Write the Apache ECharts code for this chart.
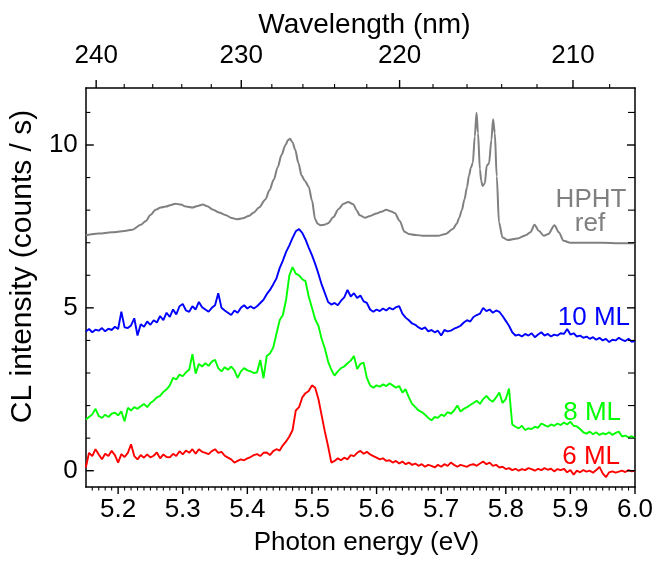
<!DOCTYPE html>
<html>
<head>
<meta charset="utf-8">
<script src="https://cdn.jsdelivr.net/npm/echarts@6.0.0/dist/echarts.min.js"></script>
<style>
html,body{margin:0;padding:0;background:#fff;}
#chart{width:666px;height:561px;}
</style>
</head>
<body>
<div id="chart"></div>
<script>
// ---- data ----
const energy = [
5.150,5.155,5.160,5.165,5.170,5.175,5.180,5.185,5.190,5.195,
5.200,5.205,5.210,5.215,5.220,5.225,5.230,5.235,5.240,5.245,
5.250,5.255,5.260,5.265,5.270,5.275,5.280,5.285,5.290,5.295,
5.300,5.305,5.310,5.315,5.320,5.325,5.330,5.335,5.340,5.345,
5.350,5.355,5.360,5.365,5.370,5.375,5.380,5.385,5.390,5.395,
5.400,5.405,5.410,5.415,5.420,5.425,5.430,5.435,5.440,5.445,
5.450,5.455,5.460,5.465,5.470,5.475,5.480,5.485,5.490,5.495,
5.500,5.505,5.510,5.515,5.520,5.525,5.530,5.535,5.540,5.545,
5.550,5.555,5.560,5.565,5.570,5.575,5.580,5.585,5.590,5.595,
5.600,5.605,5.610,5.615,5.620,5.625,5.630,5.635,5.640,5.645,
5.650,5.655,5.660,5.665,5.670,5.675,5.680,5.685,5.690,5.695,
5.700,5.705,5.710,5.715,5.720,5.725,5.730,5.735,5.740,5.745,
5.750,5.755,5.760,5.765,5.770,5.775,5.780,5.785,5.790,5.795,
5.800,5.805,5.810,5.815,5.820,5.825,5.830,5.835,5.840,5.845,
5.850,5.855,5.860,5.865,5.870,5.875,5.880,5.885,5.890,5.895,
5.900,5.905,5.910,5.915,5.920,5.925,5.930,5.935,5.940,5.945,
5.950,5.955,5.960,5.965,5.970,5.975,5.980,5.985,5.990,5.995,
6.000];

const ml10 = [
4.27,4.35,4.25,4.33,4.30,4.38,4.28,4.36,4.32,4.42,
4.35,4.88,4.40,4.38,4.46,4.68,4.15,4.50,4.42,4.58,
4.48,4.62,4.55,4.75,4.62,4.85,4.72,4.95,4.80,5.05,
5.12,4.92,4.88,5.05,4.95,5.18,5.02,4.95,4.88,5.00,
5.08,5.45,5.00,4.92,4.85,4.78,4.92,4.85,5.00,5.08,
4.98,5.05,4.98,5.05,5.15,5.25,5.42,5.55,5.72,5.90,
6.22,6.45,6.72,6.92,7.15,7.35,7.42,7.30,7.10,6.85,
6.62,6.35,6.05,5.72,5.45,5.18,5.10,5.15,5.08,5.22,
5.32,5.55,5.35,5.45,5.30,5.38,5.20,5.15,4.95,4.88,
4.95,4.90,4.98,4.92,5.00,4.95,5.02,5.05,4.82,4.70,
4.62,4.52,4.48,4.40,4.35,4.40,4.28,4.32,4.25,4.30,
4.15,4.32,4.28,4.30,4.36,4.40,4.45,4.55,4.62,4.58,
4.72,4.78,4.82,5.00,4.90,4.95,4.85,4.92,4.88,4.75,
4.60,4.45,4.25,4.15,4.18,4.12,4.20,4.15,4.22,4.10,
4.18,4.25,4.15,4.20,4.12,4.18,4.15,4.22,4.20,4.35,
4.18,4.22,4.12,4.15,4.08,4.12,4.05,4.10,4.02,4.08,
4.00,4.05,3.95,4.02,4.00,4.08,4.02,3.98,4.05,3.96,
3.98];

const ml8 = [
1.57,1.65,1.73,1.90,1.68,1.62,1.72,1.65,1.75,1.78,
1.70,1.82,1.52,1.93,1.85,1.95,1.90,1.98,2.05,1.95,
2.08,2.15,2.25,2.30,2.42,2.50,2.62,2.85,2.80,2.95,
2.90,3.02,3.10,3.58,2.98,3.28,3.20,3.30,3.22,3.35,
3.40,3.15,3.05,3.18,3.10,3.20,3.08,2.85,3.05,3.15,
3.08,3.05,3.00,3.02,3.40,2.84,3.52,3.60,3.78,4.20,
4.62,4.78,5.25,6.00,6.25,6.05,6.00,5.88,5.82,5.35,
5.00,4.65,4.45,4.05,3.75,3.35,3.10,2.92,3.05,3.15,
3.20,3.30,3.38,3.52,3.12,3.28,3.32,2.85,2.62,2.55,
2.62,2.58,2.65,2.60,2.68,2.62,2.55,2.60,2.40,2.50,
2.25,2.05,1.95,1.85,1.80,1.72,1.62,1.55,1.65,1.62,
1.72,1.68,1.80,1.75,1.85,2.00,1.82,1.90,1.95,2.02,
2.08,2.15,2.05,2.20,2.30,2.18,2.12,2.25,2.40,2.08,
2.20,2.52,1.42,1.35,1.30,1.38,1.25,1.30,1.28,1.35,
1.32,1.45,1.40,1.35,1.42,1.38,1.45,1.40,1.48,1.42,
1.50,1.38,1.36,1.28,1.18,1.14,1.20,1.12,1.18,1.10,
1.15,1.12,1.18,1.10,1.16,1.20,1.05,1.08,1.02,1.06,
1.00];

const ml6 = [
0.10,0.55,0.45,0.66,0.50,0.35,0.52,0.45,0.61,0.48,
0.25,0.51,0.42,0.55,0.81,0.45,0.35,0.48,0.40,0.50,
0.41,0.46,0.56,0.38,0.50,0.42,0.41,0.52,0.45,0.60,
0.50,0.62,0.55,0.66,0.52,0.66,0.58,0.55,0.51,0.60,
0.66,0.55,0.58,0.46,0.40,0.35,0.25,0.30,0.35,0.32,
0.38,0.42,0.48,0.51,0.45,0.55,0.56,0.48,0.60,0.66,
0.62,0.78,0.90,1.05,1.25,1.85,1.95,2.25,2.38,2.45,
2.62,2.55,2.20,1.70,1.20,0.75,0.25,0.30,0.38,0.32,
0.40,0.35,0.48,0.45,0.55,0.61,0.52,0.58,0.50,0.45,
0.40,0.35,0.38,0.30,0.32,0.25,0.30,0.22,0.28,0.20,
0.25,0.18,0.22,0.15,0.20,0.12,0.18,0.15,0.10,0.18,
0.12,0.20,0.15,0.25,0.18,0.12,0.18,0.15,0.12,0.18,
0.20,0.15,0.22,0.28,0.20,0.25,0.15,0.18,0.10,0.12,
0.05,0.08,0.02,0.06,0.00,0.05,0.02,0.08,0.05,0.00,
0.06,0.02,0.08,0.03,0.06,-0.02,0.05,0.02,0.06,-0.05,
0.02,-0.12,0.00,-0.05,0.02,-0.03,0.00,-0.06,0.02,0.12,
-0.08,-0.20,-0.05,-0.02,-0.06,-0.03,0.00,-0.04,0.02,-0.02,
0.00];

const refEnergy = [
5.150,5.170,5.190,5.210,5.222,5.235,5.243,5.250,5.258,5.266,
5.274,5.282,5.289,5.297,5.305,5.315,5.323,5.331,5.338,5.346,
5.356,5.366,5.376,5.384,5.393,5.402,5.410,5.418,5.428,5.434,
5.441,5.447,5.453,5.459,5.463,5.466,5.470,5.474,5.479,5.484,
5.489,5.495,5.500,5.505,5.509,5.513,5.519,5.525,5.533,5.541,
5.549,5.556,5.564,5.569,5.574,5.582,5.590,5.600,5.607,5.615,
5.623,5.628,5.636,5.643,5.650,5.660,5.674,5.695,5.707,5.718,
5.724,5.728,5.732,5.736,5.740,5.743,5.746,5.749,5.752,5.7547,
5.757,5.760,5.762,5.764,5.7675,5.7706,5.774,5.7778,5.7803,5.783,
5.786,5.7895,5.795,5.803,5.818,5.831,5.838,5.8445,5.851,5.859,
5.866,5.8753,5.882,5.8896,5.900,5.925,5.950,5.975,6.000];
const refHPHT = [
7.23,7.28,7.32,7.36,7.40,7.55,7.67,7.85,8.01,8.08,
8.11,8.16,8.20,8.17,8.11,8.08,8.13,8.17,8.12,8.02,
7.93,7.85,7.76,7.72,7.75,7.82,7.93,8.08,8.33,8.60,
8.94,9.32,9.70,10.00,10.15,10.19,10.08,9.86,9.45,9.06,
8.90,8.72,8.30,7.72,7.58,7.54,7.55,7.60,7.78,8.03,
8.20,8.25,8.18,8.00,7.84,7.77,7.82,7.90,7.95,8.01,
7.96,7.91,7.67,7.34,7.27,7.24,7.21,7.21,7.27,7.42,
7.58,7.77,8.00,8.33,8.70,9.06,9.30,9.45,10.26,10.99,
10.37,9.25,8.90,8.74,8.82,9.37,9.43,10.16,10.79,10.37,
9.04,7.62,7.16,7.08,7.13,7.23,7.32,7.55,7.37,7.21,
7.27,7.54,7.32,7.06,7.00,7.00,7.00,6.98,6.98];

const xTickLabels = ['5.2','5.3','5.4','5.5','5.6','5.7','5.8','5.9','6.0'];
const yTickLabels = ['0','5','10'];
const yMinorTicks = [1, 2, 3, 4, 6, 7, 8, 9, 11];
const wlMajor = [240, 230, 220, 210];
const wlMinor = [238, 236, 234, 232, 228, 226, 224, 222, 218, 216, 214, 212, 208];
const HC = 1239.84; // eV*nm

// ---- chart ----
const FONT = '"Liberation Sans", Arial, Helvetica, sans-serif';
const X_MIN = 5.15, X_MAX = 6.0, Y_MIN = -0.5, Y_MAX = 11.75;

function zip(xs, ys) { return xs.map((x, i) => [x, ys[i]]); }
function near(v, step) { return Math.abs(v / step - Math.round(v / step)) < 1e-6; }

// tick marks: [side, value, major]; side 0 bottom, 1 left, 2 right
const frameTicks = [];
xTickLabels.forEach(s => frameTicks.push([0, parseFloat(s), 1]));
for (let i = 516; i < 600; i++) { if (i % 10 !== 0) frameTicks.push([0, i / 100, 0]); }
yTickLabels.forEach(s => { frameTicks.push([1, parseFloat(s), 1]); frameTicks.push([2, parseFloat(s), 1]); });
yMinorTicks.forEach(v => { frameTicks.push([1, v, 0]); frameTicks.push([2, v, 0]); });

const topTicks = wlMajor.map(w => [HC / w, w, 1]).concat(wlMinor.map(w => [HC / w, w, 0]));

const AXIS_LINE = {show: true, onZero: false, lineStyle: {color: '#000', width: 1.5}};

const chart = echarts.init(document.getElementById('chart'), null, {renderer: 'canvas'});
chart.setOption({
  animation: false,
  backgroundColor: '#fff',
  textStyle: {fontFamily: FONT},
  grid: {left: 83, right: 31, top: 88, bottom: 70},
  xAxis: [{
    type: 'value', min: X_MIN, max: X_MAX, minInterval: 0.1, maxInterval: 0.1,
    position: 'bottom',
    axisLine: AXIS_LINE,
    axisTick: {show: false}, minorTick: {show: false},
    splitLine: {show: false},
    axisLabel: {
      fontSize: 26, color: '#000', fontFamily: FONT, margin: 10,
      formatter: v => {
        const s = v.toFixed(1);
        return (near(v, 0.1) && xTickLabels.indexOf(s) >= 0) ? s : '';
      }
    },
    name: 'Photon energy (eV)', nameLocation: 'middle', nameGap: 43,
    nameTextStyle: {fontSize: 26, color: '#000', fontFamily: FONT, padding: [0, 0, 0, 12]}
  }, {
    type: 'value', min: X_MIN, max: X_MAX, position: 'top',
    axisLine: AXIS_LINE,
    axisTick: {show: false}, axisLabel: {show: false}, splitLine: {show: false},
    name: 'Wavelength (nm)', nameLocation: 'middle', nameGap: 49,
    nameTextStyle: {fontSize: 28, color: '#000', fontFamily: FONT, padding: [0, 0, 0, 8]}
  }],
  yAxis: [{
    type: 'value', min: Y_MIN, max: Y_MAX, minInterval: 5, maxInterval: 5,
    position: 'left',
    axisLine: AXIS_LINE,
    axisTick: {show: false}, minorTick: {show: false},
    splitLine: {show: false},
    axisLabel: {
      fontSize: 26, color: '#000', fontFamily: FONT, margin: 8,
      formatter: v => {
        const s = String(Math.round(v));
        return (near(v, 5) && yTickLabels.indexOf(s) >= 0) ? s : '';
      }
    },
    name: 'CL intensity (counts / s)', nameLocation: 'middle', nameGap: 44,
    nameTextStyle: {fontSize: 30, color: '#000', fontFamily: FONT, padding: [0, 0, 0, 42]}
  }, {
    type: 'value', min: Y_MIN, max: Y_MAX, position: 'right',
    axisLine: AXIS_LINE,
    axisTick: {show: false}, splitLine: {show: false}, axisLabel: {show: false}
  }],
  series: [{
    name: 'HPHT ref', type: 'line', xAxisIndex: 0, yAxisIndex: 0,
    data: zip(refEnergy, refHPHT), showSymbol: false, smooth: 0.3, smoothMonotone: 'x',
    lineStyle: {color: '#808080', width: 2}, z: 2
  }, {
    name: '10 ML', type: 'line', xAxisIndex: 0, yAxisIndex: 0,
    data: zip(energy, ml10), showSymbol: false,
    lineStyle: {color: '#0000ff', width: 1.9}, z: 3
  }, {
    name: '8 ML', type: 'line', xAxisIndex: 0, yAxisIndex: 0,
    data: zip(energy, ml8), showSymbol: false,
    lineStyle: {color: '#00ff00', width: 1.9}, z: 4
  }, {
    name: '6 ML', type: 'line', xAxisIndex: 0, yAxisIndex: 0,
    data: zip(energy, ml6), showSymbol: false,
    lineStyle: {color: '#ff0000', width: 1.9}, z: 5
  }, {
    name: 'frame ticks', type: 'custom', xAxisIndex: 0, yAxisIndex: 0,
    clip: false, silent: true, z: 10,
    data: frameTicks,
    renderItem: function (params, api) {
      const side = api.value(0), v = api.value(1), major = api.value(2) === 1;
      let x1, y1, x2, y2;
      if (side === 0) {
        const p = api.coord([v, Y_MIN]);
        const len = major ? 7 : 3.5;
        x1 = p[0]; y1 = p[1]; x2 = p[0]; y2 = p[1] + len;
      } else if (side === 1) {
        const p = api.coord([X_MIN, v]);
        const len = major ? 8 : 4.5;
        x1 = p[0]; y1 = p[1]; x2 = p[0] + len; y2 = p[1];
      } else {
        const p = api.coord([X_MAX, v]);
        const len = major ? 8 : 7;
        x1 = p[0]; y1 = p[1]; x2 = p[0] - len; y2 = p[1];
      }
      return {type: 'line', shape: {x1: x1, y1: y1, x2: x2, y2: y2},
              style: {stroke: '#000', lineWidth: major ? 1.4 : 1.1}};
    }
  }, {
    name: 'wavelength ticks', type: 'custom', xAxisIndex: 1, yAxisIndex: 0,
    clip: false, silent: true, z: 10,
    data: topTicks,
    renderItem: function (params, api) {
      const p = api.coord([api.value(0), Y_MAX]);
      const major = api.value(2) === 1;
      const len = major ? 8 : 4;
      const children = [{
        type: 'line',
        shape: {x1: p[0], y1: p[1], x2: p[0], y2: p[1] - len},
        style: {stroke: '#000', lineWidth: major ? 1.4 : 1.1}
      }];
      if (major) {
        children.push({
          type: 'text',
          style: {
            text: String(api.value(1)), x: p[0], y: p[1] - 32,
            align: 'center', verticalAlign: 'middle',
            textAlign: 'center', textVerticalAlign: 'middle',
            fontSize: 26, fontFamily: FONT, fill: '#000'
          }
        });
      }
      return {type: 'group', children: children};
    }
  }],
  graphic: [
    {type: 'text', x: 591, y: 200, style: {text: 'HPHT', fill: '#808080', font: '26px ' + FONT, align: 'center', verticalAlign: 'middle', textAlign: 'center', textVerticalAlign: 'middle'}},
    {type: 'text', x: 590, y: 224, style: {text: 'ref', fill: '#808080', font: '26px ' + FONT, align: 'center', verticalAlign: 'middle', textAlign: 'center', textVerticalAlign: 'middle'}},
    {type: 'text', x: 630, y: 318, style: {text: '10 ML', fill: '#0000ff', font: '26px ' + FONT, align: 'right', verticalAlign: 'middle', textAlign: 'right', textVerticalAlign: 'middle'}},
    {type: 'text', x: 621, y: 413, style: {text: '8 ML', fill: '#00ff00', font: '26px ' + FONT, align: 'right', verticalAlign: 'middle', textAlign: 'right', textVerticalAlign: 'middle'}},
    {type: 'text', x: 620, y: 457, style: {text: '6 ML', fill: '#ff0000', font: '26px ' + FONT, align: 'right', verticalAlign: 'middle', textAlign: 'right', textVerticalAlign: 'middle'}}
  ]
});
</script>
</body>
</html>
